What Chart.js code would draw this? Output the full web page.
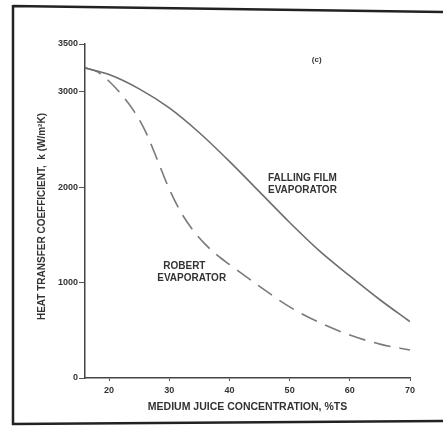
<!DOCTYPE html>
<html>
<head>
<meta charset="utf-8">
<script src="https://cdn.jsdelivr.net/npm/chart.js@4/dist/chart.umd.min.js"></script>
<style>
  html, body { margin: 0; padding: 0; background: #fff; }
  #wrap { width: 443px; height: 429px; position: relative; }
</style>
</head>
<body>
<div id="wrap"><canvas id="chartK"></canvas></div>
<script>
// valores
var concFalling = [16, 20, 25, 30, 35, 40, 45, 50, 55, 60, 65, 70]
var kFalling = [3250, 3180, 3030, 2830, 2570, 2270, 1950, 1630, 1330, 1070, 820, 590]

var concRobert = [16, 18, 20, 22, 24, 26, 28, 30, 32, 34, 36, 38, 40, 45, 50, 55, 60, 65, 70]
var kRobert = [3250, 3210, 3110, 2975, 2810, 2590, 2290, 1980, 1730, 1545, 1400, 1285, 1190, 960, 745, 580, 450, 355, 293]

var xTicks = [20, 30, 40, 50, 60, 70]
var yTicks = [0, 1000, 2000, 3000, 3500]

var fonte = "'Liberation Sans', Arial, sans-serif"
var corTexto = '#333'

// rotulos dentro do grafico (posicao em unidades dos eixos)
var rotulos = [
  { text: '(c)', x: 54.5, y: 3330, align: 'center', size: 8 },
  { text: 'FALLING FILM', x: 46.4, y: 2090, align: 'left', size: 10 },
  { text: 'EVAPORATOR', x: 46.4, y: 1965, align: 'left', size: 10 },
  { text: 'ROBERT', x: 29.0, y: 1170, align: 'left', size: 10 },
  { text: 'EVAPORATOR', x: 28.0, y: 1045, align: 'left', size: 10 }
]

function pares(xs, ys) {
  return xs.map((x, i) => ({ x: x, y: ys[i] }))
}

var moldura = {
  id: 'moldura',
  beforeDraw(chart) {
    const ctx = chart.ctx
    ctx.save()
    ctx.fillStyle = '#fff'
    ctx.fillRect(0, 0, chart.width, chart.height)
    ctx.strokeStyle = '#222'
    ctx.lineWidth = 2.5
    ctx.beginPath()
    ctx.moveTo(13, 6); ctx.lineTo(443, 12)
    ctx.moveTo(13, 5); ctx.lineTo(13, 425)
    ctx.moveTo(12, 424); ctx.lineTo(443, 421)
    ctx.stroke()
    ctx.restore()
  },
  afterDatasetsDraw(chart) {
    const ctx = chart.ctx
    const sx = chart.scales.x, sy = chart.scales.y
    ctx.save()
    ctx.fillStyle = corTexto
    ctx.textBaseline = 'middle'
    rotulos.forEach(r => {
      ctx.font = 'bold ' + r.size + 'px ' + fonte
      ctx.textAlign = r.align
      ctx.fillText(r.text, sx.getPixelForValue(r.x), sy.getPixelForValue(r.y))
    })
    ctx.restore()
  }
}

const chartK = document.getElementById('chartK')

const config = {
  type: 'line',
  data: {
    datasets: [{
      label: 'Falling film evaporator',
      data: pares(concFalling, kFalling),
      borderColor: '#6e6e6e',
      borderWidth: 1.6,
      cubicInterpolationMode: 'monotone',
      pointRadius: 0,
      fill: false
    }, {
      label: 'Robert evaporator',
      data: pares(concRobert, kRobert),
      borderColor: '#7a7a7a',
      borderWidth: 1.6,
      borderDash: [17, 9],
      cubicInterpolationMode: 'monotone',
      pointRadius: 0,
      fill: false
    }]
  },
  options: {
    responsive: true,
    maintainAspectRatio: false,
    animation: false,
    layout: { padding: { left: 14, top: 44, right: 33, bottom: 10 } },
    plugins: {
      legend: { display: false },
      tooltip: { enabled: false }
    },
    scales: {
      x: {
        type: 'linear',
        min: 16,
        max: 70,
        afterBuildTicks: (s) => { s.ticks = xTicks.map(v => ({ value: v })) },
        afterFit: (s) => { s.height = 41 },
        grid: { drawOnChartArea: false, tickLength: 3, color: '#555' },
        border: { color: '#444', width: 1.5 },
        ticks: {
          padding: 4,
          color: corTexto,
          maxRotation: 0,
          callback: (v) => String(v),
          font: { family: fonte, size: 9, weight: 'bold' }
        },
        title: {
          display: true,
          text: 'MEDIUM JUICE CONCENTRATION, %TS',
          color: corTexto,
          padding: { top: 0, bottom: 6 },
          font: { family: fonte, size: 10.5, weight: 'bold' }
        }
      },
      y: {
        min: 0,
        max: 3500,
        afterBuildTicks: (s) => { s.ticks = yTicks.map(v => ({ value: v })) },
        afterFit: (s) => { s.width = 71 },
        grid: { drawOnChartArea: false, tickLength: 6, color: '#555' },
        border: { color: '#444', width: 1.5 },
        ticks: {
          padding: 1,
          color: corTexto,
          callback: (v) => String(v),
          font: { family: fonte, size: 9, weight: 'bold' }
        },
        title: {
          display: true,
          text: 'HEAT TRANSFER COEFFICIENT,  k (W/m\u00B2K)    ',
          color: corTexto,
          padding: { top: 22, bottom: 0 },
          font: { family: fonte, size: 10, weight: 'bold' }
        }
      }
    }
  },
  plugins: [moldura]
}

let grafico = new Chart(chartK, config)
</script>
</body>
</html>
